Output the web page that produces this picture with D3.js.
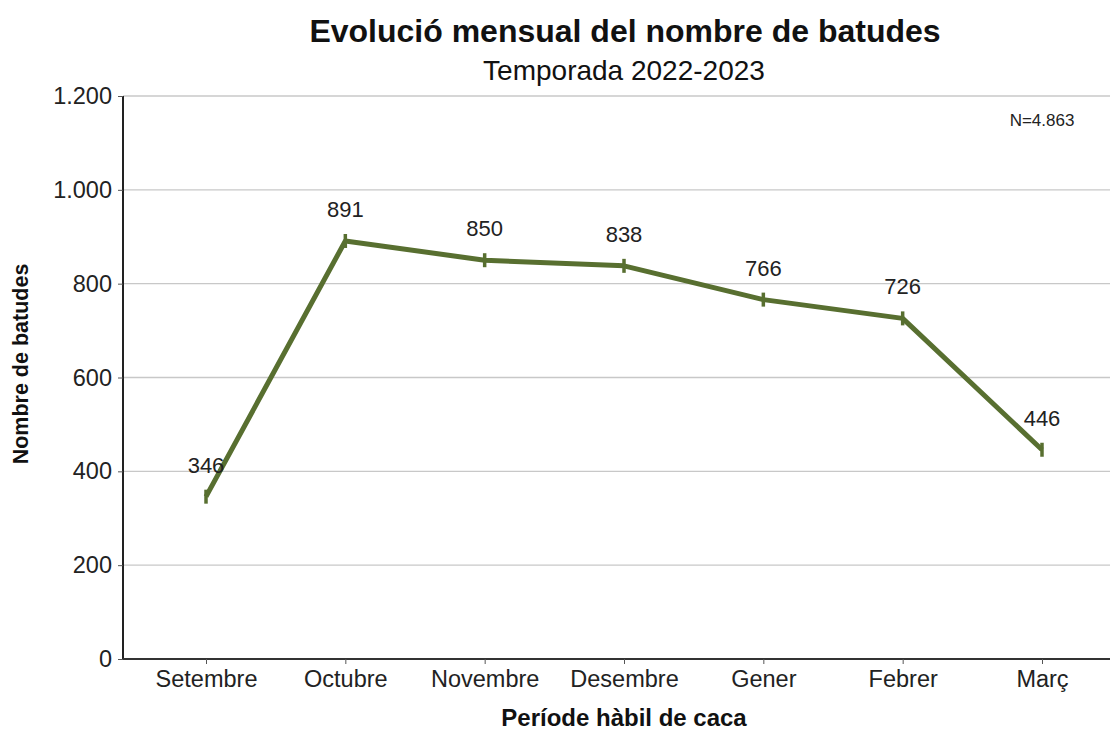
<!DOCTYPE html>
<html><head><meta charset="utf-8">
<script src="https://cdn.jsdelivr.net/npm/d3@7"></script>
<style>body{margin:0;background:#fff}svg{font-family:"Liberation Sans",Arial,sans-serif}</style>
</head><body>
<svg id="c" width="1111" height="729"></svg>
<script>
const months = ["Setembre","Octubre","Novembre","Desembre","Gener","Febrer","Març"];
const batudes = [346, 891, 850, 838, 766, 726, 446];
const yTicks = [0, 200, 400, 600, 800, 1000, 1200];
const fmt = d => d3.format(",")(d).replace(/,/g, ".");

const svg = d3.select("#c");
const mLeft = 123, mRight = 1110, mTop = 96, mBottom = 659;
const x = d3.scalePoint().domain(months).range([206, 1042]);
const y = d3.scaleLinear().domain([0, 1200]).range([mBottom, mTop]);
const color = "#586f30";
const FF = "Liberation Sans, Arial, sans-serif";

// grid
svg.append("g").selectAll("line").data(yTicks.filter(d=>d>0)).join("line")
  .attr("x1", mLeft).attr("x2", mRight).attr("y1", d=>y(d)).attr("y2", d=>y(d))
  .attr("stroke", "#c8c8c8").attr("stroke-width", 1.3);

// y axis
const ya = svg.append("g").attr("transform", `translate(${mLeft},0)`)
  .call(d3.axisLeft(y).tickValues(yTicks).tickFormat(fmt).tickSize(5).tickPadding(6));
ya.select(".domain").attr("stroke", "#222").attr("stroke-width", 2).attr("d", `M0,${mTop}V${mBottom}`);
ya.selectAll(".tick line").attr("stroke", "#555");
ya.selectAll("text").attr("font-size", 23.5).attr("fill", "#222").attr("font-family", FF);

// x axis
const xa = svg.append("g").attr("transform", `translate(0,${mBottom})`)
  .call(d3.axisBottom(x).tickSize(5).tickPadding(6));
xa.select(".domain").attr("stroke", "#333").attr("stroke-width", 2).attr("d", `M${mLeft},0H${mRight}`);
xa.selectAll(".tick line").attr("stroke", "#555");
xa.selectAll("text").attr("font-size", 23.5).attr("fill", "#222").attr("font-family", FF);

// line
svg.append("path").datum(batudes)
  .attr("d", d3.line().x((d,i)=>x(months[i])).y(d=>y(d)))
  .attr("fill", "none").attr("stroke", color).attr("stroke-width", 5).attr("stroke-linejoin", "round");

// markers
svg.append("g").selectAll("line").data(batudes).join("line")
  .attr("x1", (d,i)=>x(months[i])).attr("x2", (d,i)=>x(months[i]))
  .attr("y1", d=>y(d)-7).attr("y2", d=>y(d)+7)
  .attr("stroke", color).attr("stroke-width", 3.5);

// value labels
svg.append("g").selectAll("text").data(batudes).join("text")
  .attr("x", (d,i)=>x(months[i])).attr("y", d=>y(d)-24)
  .attr("text-anchor", "middle").attr("font-size", 22).attr("fill", "#222")
  .text(d=>fmt(d));

// titles
svg.append("text").attr("x", 625).attr("y", 42).attr("text-anchor", "middle")
  .attr("font-size", 32).attr("font-weight", "bold").attr("fill", "#111")
  .text("Evolució mensual del nombre de batudes");
svg.append("text").attr("x", 624).attr("y", 80).attr("text-anchor", "middle")
  .attr("font-size", 28).attr("fill", "#111").text("Temporada 2022-2023");
svg.append("text").attr("x", 1042).attr("y", 126).attr("text-anchor", "middle")
  .attr("font-size", 17).attr("fill", "#222").text("N=4.863");
svg.append("text").attr("x", 624).attr("y", 726).attr("text-anchor", "middle")
  .attr("font-size", 24).attr("font-weight", "bold").attr("fill", "#111")
  .text("Període hàbil de caca");
svg.append("text").attr("transform", "translate(28,364) rotate(-90)").attr("text-anchor", "middle")
  .attr("font-size", 21.5).attr("font-weight", "bold").attr("fill", "#111")
  .text("Nombre de batudes");
</script>
</body></html>
